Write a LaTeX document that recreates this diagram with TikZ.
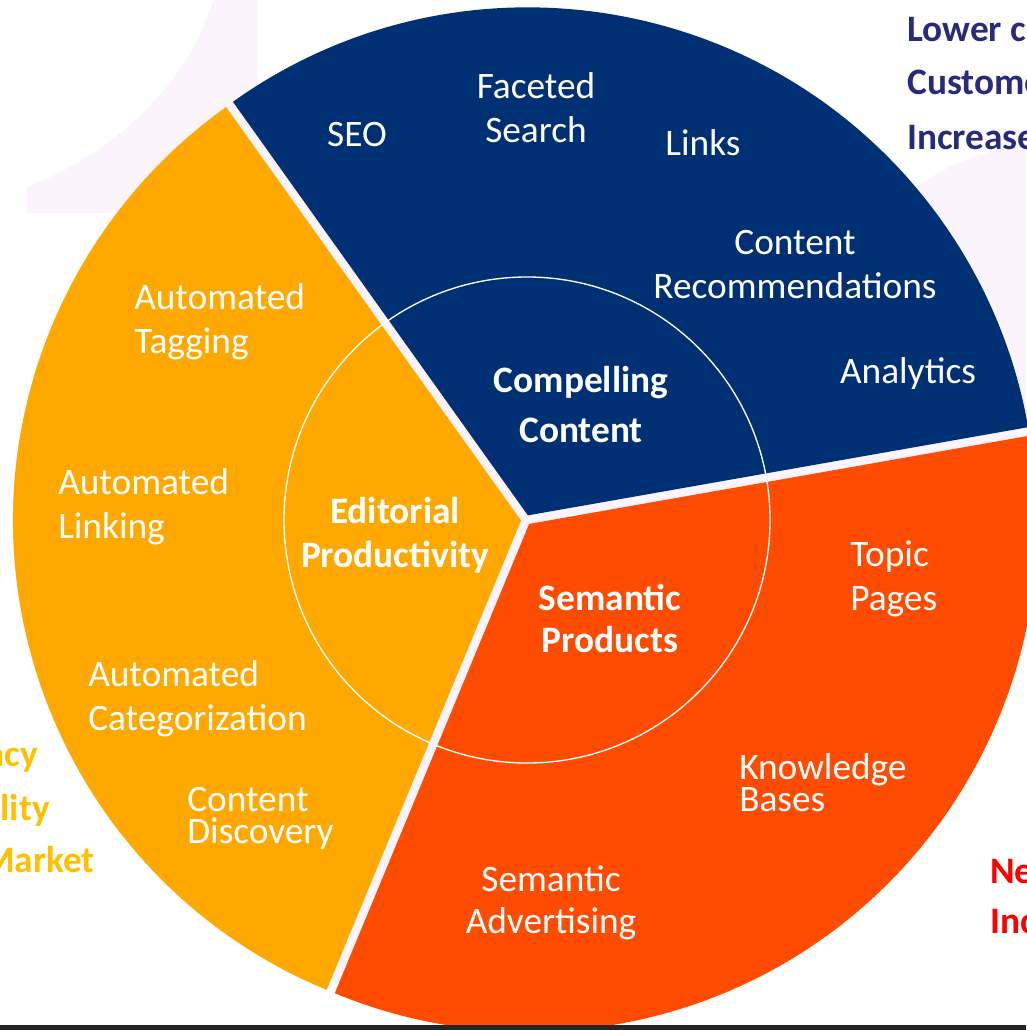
\documentclass[tikz,border=0pt]{standalone}
\usepackage{fontspec}
\setmainfont{Carlito}
\usetikzlibrary{calc}
\definecolor{cblue}{RGB}{0,48,116}
\definecolor{cyellow}{RGB}{255,168,0}
\definecolor{corange}{RGB}{255,76,0}
\definecolor{bgpink}{RGB}{251,244,252}
\definecolor{sideblue}{RGB}{40,42,122}
\definecolor{sideyellow}{RGB}{255,192,0}
\definecolor{sidered}{RGB}{255,0,0}
\tikzset{
  lab/.style={text=white, font=\fontsize{28}{33}\selectfont, inner sep=0pt, align=center},
  labl/.style={lab, align=left, anchor=west},
  boldlab/.style={lab, font=\bfseries\fontsize{28}{33}\selectfont},
  side/.style={font=\bfseries\fontsize{28}{33}\selectfont, inner sep=0pt},
}
\begin{document}
\begin{tikzpicture}[x=0.75pt,y=-0.75pt]
\useasboundingbox (0,0) rectangle (1026,1030);
% faint background shapes
\fill[bgpink] (213,0) -- (257,0) -- (257,250) -- (150,250) -- (150,213) -- (27,213) -- (27,187)
  .. controls (120,150) and (190,80) .. (213,0) -- cycle;
\fill[bgpink] (900,200) .. controls (940,165) and (985,150) .. (1026,145) -- (1026,420) -- (900,420) -- cycle;
\fill[bgpink] (526,520) circle (500);
% sectors
\coordinate (C) at (526,520);
\coordinate (Ab) at ($(C)+(-67.75:5)$);
\coordinate (Ay) at ($(C)+(173.25:5)$);
\coordinate (Ao) at ($(C)+(51.25:5)$);
\fill[cblue] (Ab) -- ++(-125.5:508) arc[start angle=-125.5, end angle=-10, radius=508] -- cycle;
\fill[cyellow] (Ay) -- ++(112.5:508) arc[start angle=112.5, end angle=234.5, radius=508] -- cycle;
\fill[corange] (Ao) -- ++(-10:508) arc[start angle=-10, end angle=112.5, radius=508] -- cycle;
% inner circle
\draw[white, line width=1pt] (527,520) circle (243);
% bottom bar
\fill[black!86] (0,1025) rectangle (1026,1030);
% blue sector labels
\node[lab] (seo) at (357,135) {SEO};
\node[lab] (fac) at (536,108) {Faceted\\Search};
\node[lab] (links) at (703,143) {Links};
\node[lab] (rec) at (795,264.5) {Content\\Recommendations};
\node[lab] (ana) at (908,374) {Analytics};
\node[boldlab, font=\bfseries\fontsize{28}{38}\selectfont] (cc) at (581,404.5) {Compelling\\Content};
% yellow sector labels
\node[labl] (tag) at (134,321.5) {Automated\\Tagging};
\node[labl] (lnk) at (58,507) {Automated\\Linking};
\node[labl] (cat) at (88,699) {Automated\\Categorization};
\node[labl, font=\fontsize{28}{24}\selectfont] (disc) at (187,818.5) {Content\\Discovery};
\node[boldlab] (ep) at (395,535.5) {Editorial\\Productivity};
% orange sector labels
\node[boldlab, font=\bfseries\fontsize{28}{31}\selectfont] (sp) at (610,618.5) {Semantic\\Products};
\node[labl] (tp) at (850,579) {Topic\\Pages};
\node[labl, font=\fontsize{28}{24}\selectfont] (kb) at (739,783) {Knowledge\\Bases};
\node[lab, font=\fontsize{28}{31.5}\selectfont] (sa) at (551,902.5) {Semantic\\Advertising};
% side texts (cut off at the page edge)
\node[side, text=sideblue, anchor=west] (s1) at (907,30) {Lower c};
\node[side, text=sideblue, anchor=west] (s2) at (907,82) {Custome};
\node[side, text=sideblue, anchor=west] (s3) at (907,138) {Increase};
\node[side, text=sideyellow, anchor=east] (y1) at (38,760) {ncy};
\node[side, text=sideyellow, anchor=east] (y2) at (50,810) {ility};
\node[side, text=sideyellow, anchor=east] (y3) at (95,860) {Market};
\node[side, text=sidered, anchor=west] (r1) at (990,872) {Ne};
\node[side, text=sidered, anchor=west] (r2) at (990,922) {Inc};
\end{tikzpicture}
\end{document}
